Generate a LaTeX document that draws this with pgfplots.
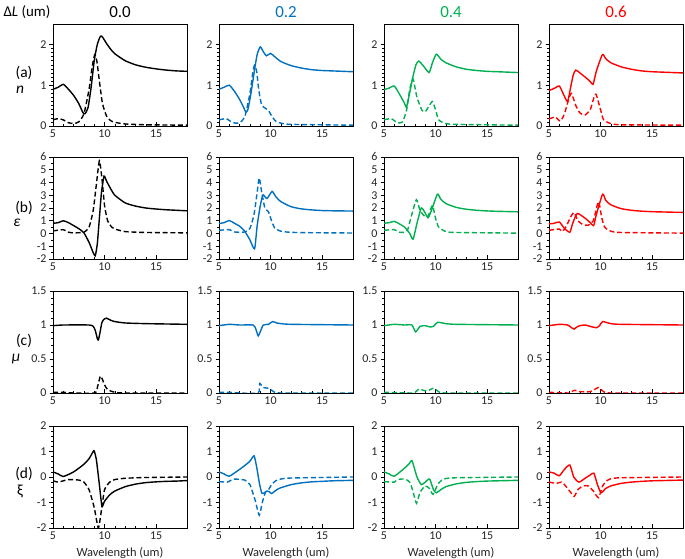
\documentclass[border=0pt]{standalone}
\usepackage{pgfplots}
\pgfplotsset{compat=1.18}
\usepackage{fontspec}
\setmainfont{Carlito}
\definecolor{cblk}{RGB}{0,0,0}
\definecolor{cblu}{RGB}{0,112,192}
\definecolor{cgrn}{RGB}{0,176,80}
\definecolor{cred}{RGB}{255,0,0}
\pgfplotsset{
  panel/.style={scale only axis, width=134bp, height=102bp, anchor=south west,
    xmin=5, xmax=18, xtick={5,10,15}, minor x tick num=4,
    xtick align=inside, ytick align=outside, xtick pos=bottom, ytick pos=left,
    major tick length=3.5bp, minor tick length=2bp,
    tick label style={font=\fontsize{12}{12}\selectfont, text=black!85},
    /pgf/number format/assume math mode=true,
    axis line style={black, line width=0.6bp},
    every tick/.style={black, line width=0.5bp},
    xticklabel style={yshift=-0.5bp},
    yticklabel style={xshift=0.5bp},
    clip=true},
  rowa/.style={panel, ymin=0, ymax=2.5, ytick={0,1,2}, minor y tick num=9},
  rowb/.style={panel, ymin=-2, ymax=6, ytick={-2,-1,0,1,2,3,4,5,6}, minor y tick num=1},
  rowc/.style={panel, ymin=0, ymax=1.5, ytick={0,0.5,1,1.5}, minor y tick num=4},
  rowd/.style={panel, ymin=-2, ymax=2, ytick={-2,-1,0,1,2}, minor y tick num=4},
  sol/.style={line width=1.4bp, smooth, tension=0.35, no markers},
  das/.style={line width=1.4bp, smooth, tension=0.35, no markers, dash pattern=on 5bp off 2.8bp},
}
\begin{document}
\begin{tikzpicture}
\useasboundingbox (0bp,0bp) rectangle (685bp,559bp);
% ---------- titles ----------
\node[anchor=west, font=\fontsize{15}{15}\selectfont] at (0bp,547bp) {Δ\textit{L} (um)};
\node[font=\fontsize{17}{17}\selectfont, text=cblk] at (120bp,547bp) {0.0};
\node[font=\fontsize{17}{17}\selectfont, text=cblu] at (286bp,547bp) {0.2};
\node[font=\fontsize{17}{17}\selectfont, text=cgrn] at (451bp,547bp) {0.4};
\node[font=\fontsize{17}{17}\selectfont, text=cred] at (616bp,547bp) {0.6};
\node[font=\fontsize{15.5}{15.5}\selectfont] at (24bp,486bp) {(a)};
\node[font=\fontsize{15.5}{15.5}\selectfont] at (20bp,469bp) {\textit{n}};
\node[font=\fontsize{15.5}{15.5}\selectfont] at (24bp,351bp) {(b)};
\node[font=\fontsize{15.5}{15.5}\selectfont] at (17bp,336bp) {\textit{ε}};
\node[font=\fontsize{15.5}{15.5}\selectfont] at (24bp,218bp) {(c)};
\node[font=\fontsize{15.5}{15.5}\selectfont] at (16bp,200bp) {\textit{μ}};
\node[font=\fontsize{15.5}{15.5}\selectfont] at (24bp,85bp) {(d)};
\node[font=\fontsize{15.5}{15.5}\selectfont] at (20bp,68bp) {ξ};
\foreach \cx in {120,286,451,616}{\node[font=\fontsize{12.5}{12.5}\selectfont, text=black!85] at (\cx bp,6bp) {Wavelength (um)};}
% ================= column 0.0 =================
\begin{axis}[rowa, at={(53bp,433bp)}]
\addplot[sol,cblk] coordinates {(5,0.9)(5.5,0.95)(6,1.02)(6.5,0.9)(7,0.75)(7.5,0.55)(7.9,0.33)(8.1,0.3)(8.4,0.45)(8.7,0.95)(9,1.6)(9.3,2.0)(9.6,2.2)(9.8,2.18)(10.2,2.02)(10.6,1.88)(11,1.77)(12,1.6)(13,1.5)(14,1.44)(15,1.4)(16,1.37)(17,1.35)(18,1.34)};
\addplot[das,cblk] coordinates {(5,0.15)(5.5,0.18)(6,0.15)(6.5,0.08)(7,0.06)(7.5,0.1)(8,0.3)(8.5,0.9)(8.8,1.45)(9.05,1.75)(9.25,1.6)(9.5,1.1)(9.8,0.55)(10.2,0.24)(10.6,0.13)(11,0.09)(12,0.05)(14,0.03)(18,0.02)};
\end{axis}
\begin{axis}[rowb, at={(53bp,300bp)}]
\addplot[sol,cblk] coordinates {(5,0.8)(5.5,0.85)(6,1.0)(6.5,0.85)(7,0.62)(7.5,0.38)(8,0.05)(8.5,-0.7)(8.9,-1.5)(9.1,-1.75)(9.3,-0.8)(9.5,1.2)(9.7,3.2)(9.95,4.5)(10.2,4.1)(10.6,3.5)(11,3.0)(12,2.4)(13,2.15)(14,2.0)(15,1.92)(16,1.86)(17,1.82)(18,1.78)};
\addplot[das,cblk] coordinates {(5,0.2)(6,0.3)(6.5,0.1)(7,0.05)(8,0.1)(8.5,0.5)(8.9,1.8)(9.2,3.8)(9.5,5.7)(9.75,4.3)(10,2.2)(10.3,1.0)(10.7,0.5)(11,0.35)(12,0.15)(14,0.08)(18,0.05)};
\end{axis}
\begin{axis}[rowc, at={(53bp,166bp)}]
\addplot[sol,cblk] coordinates {(5,0.99)(6,1.0)(8.5,1.0)(8.9,0.98)(9.1,0.92)(9.3,0.8)(9.4,0.78)(9.55,0.88)(9.75,1.04)(10.0,1.09)(10.2,1.1)(10.6,1.07)(11,1.05)(12,1.03)(14,1.02)(18,1.01)};
\addplot[das,cblk] coordinates {(5,0.01)(6,0.01)(7,0)(9.1,0)(9.3,0.08)(9.5,0.2)(9.6,0.25)(9.8,0.2)(10.0,0.12)(10.3,0.05)(11,0.01)(12,0)(18,0)};
\end{axis}
\begin{axis}[rowd, at={(53bp,31bp)}]
\addplot[sol,cblk] coordinates {(5,0.2)(5.5,0.12)(6,0.02)(7,0.2)(8,0.5)(8.5,0.72)(8.9,1.0)(9.0,1.02)(9.2,0.7)(9.5,-0.3)(9.75,-1.15)(10.0,-0.95)(10.5,-0.7)(11,-0.55)(12,-0.38)(13,-0.28)(14,-0.22)(15,-0.19)(16,-0.17)(17,-0.16)(18,-0.14)};
\addplot[das,cblk] coordinates {(5,-0.15)(5.5,-0.2)(6,-0.15)(6.5,-0.1)(7.5,-0.12)(8,-0.2)(8.5,-0.5)(9,-1.2)(9.4,-2.0)(9.7,-1.3)(10,-0.5)(10.5,-0.2)(11,-0.1)(12,-0.05)(14,-0.02)(18,0.0)};
\end{axis}
% ================= column 0.2 =================
\begin{axis}[rowa, at={(219bp,433bp)}]
\addplot[sol,cblu] coordinates {(5,0.9)(5.5,0.95)(6,1.0)(6.5,0.85)(7,0.65)(7.4,0.45)(7.6,0.34)(7.8,0.4)(8.1,0.8)(8.4,1.3)(8.7,1.75)(9.0,1.94)(9.3,1.82)(9.6,1.72)(10.0,1.78)(10.4,1.7)(11,1.58)(12,1.48)(13,1.42)(14,1.38)(15,1.36)(16,1.35)(17,1.34)(18,1.33)};
\addplot[das,cblu] coordinates {(5,0.15)(5.7,0.18)(6.2,0.1)(6.6,0.07)(7,0.08)(7.5,0.22)(8,0.8)(8.3,1.35)(8.45,1.49)(8.65,1.35)(8.85,0.9)(9.1,0.55)(9.4,0.45)(9.8,0.38)(10.1,0.25)(10.5,0.12)(11,0.07)(12,0.04)(18,0.02)};
\end{axis}
\begin{axis}[rowb, at={(219bp,300bp)}]
\addplot[sol,cblu] coordinates {(5,0.78)(5.5,0.85)(6,1.02)(6.5,0.8)(7,0.57)(7.5,0.17)(8,-0.5)(8.45,-1.2)(8.7,0.6)(9.0,2.16)(9.27,3.03)(9.65,2.74)(10.15,3.3)(10.5,2.9)(11,2.5)(12,2.1)(13,1.93)(14,1.85)(15,1.8)(16,1.78)(17,1.77)(18,1.76)};
\addplot[das,cblu] coordinates {(5,0.25)(6,0.3)(6.5,0.12)(7,0.1)(7.5,0.12)(8,0.4)(8.4,1.5)(8.7,3.2)(8.9,4.36)(9.15,3.2)(9.45,2.0)(9.8,1.7)(10.1,1.0)(10.4,0.44)(11,0.18)(12,0.09)(14,0.06)(18,0.04)};
\end{axis}
\begin{axis}[rowc, at={(219bp,166bp)}]
\addplot[sol,cblu] coordinates {(5,0.99)(6,1.01)(7,1.0)(8.3,1.0)(8.55,0.95)(8.8,0.84)(9.0,0.9)(9.3,1.0)(9.8,1.01)(10.2,1.05)(10.6,1.03)(11,1.02)(12,1.01)(18,1.0)};
\addplot[das,cblu] coordinates {(5,0.01)(6,0.01)(7,0.0)(8.8,0.0)(8.95,0.14)(9.3,0.08)(9.8,0.07)(10.3,0.02)(11,0.0)(18,0.0)};
\end{axis}
\begin{axis}[rowd, at={(219bp,31bp)}]
\addplot[sol,cblu] coordinates {(5,0.2)(5.5,0.12)(6,0.03)(7,0.3)(7.5,0.45)(8.0,0.62)(8.4,0.83)(8.65,0.4)(8.9,-0.2)(9.15,-0.63)(9.4,-0.62)(9.65,-0.55)(9.9,-0.58)(10.1,-0.65)(10.6,-0.5)(11,-0.42)(12,-0.3)(13,-0.23)(14,-0.19)(15,-0.17)(16,-0.15)(17,-0.14)(18,-0.13)};
\addplot[das,cblu] coordinates {(5,-0.18)(5.8,-0.2)(6.2,-0.12)(6.5,-0.08)(7.5,-0.12)(8.0,-0.3)(8.5,-0.9)(8.9,-1.5)(9.2,-1.0)(9.5,-0.6)(9.8,-0.5)(10.1,-0.3)(10.5,-0.15)(11,-0.08)(12,-0.04)(18,0.0)};
\end{axis}
% ================= column 0.4 =================
\begin{axis}[rowa, at={(384bp,433bp)}]
\addplot[sol,cgrn] coordinates {(5,0.89)(5.5,0.93)(6,0.98)(6.5,0.78)(7.0,0.55)(7.17,0.46)(7.4,0.7)(7.8,1.2)(8.1,1.5)(8.37,1.59)(8.8,1.48)(9.37,1.31)(9.7,1.55)(10.08,1.76)(10.5,1.64)(11,1.55)(12,1.45)(13,1.39)(14,1.36)(15,1.34)(16,1.33)(17,1.32)(18,1.31)};
\addplot[das,cgrn] coordinates {(5,0.15)(5.7,0.18)(6.3,0.08)(6.8,0.1)(7.2,0.4)(7.5,0.9)(7.82,1.15)(8.2,0.7)(8.7,0.38)(9.0,0.35)(9.4,0.5)(9.7,0.6)(10.0,0.4)(10.3,0.15)(11,0.06)(12,0.04)(18,0.02)};
\end{axis}
\begin{axis}[rowb, at={(384bp,300bp)}]
\addplot[sol,cgrn] coordinates {(5,0.8)(5.5,0.85)(6,0.95)(6.5,0.75)(7,0.5)(7.5,0.0)(7.82,-0.45)(8.2,0.8)(8.62,2.0)(9.0,1.6)(9.27,1.23)(9.6,1.8)(10.18,3.08)(10.5,2.7)(11,2.35)(12,2.05)(13,1.9)(14,1.82)(15,1.77)(16,1.74)(17,1.72)(18,1.7)};
\addplot[das,cgrn] coordinates {(5,0.25)(6,0.3)(6.5,0.1)(7,0.1)(7.3,0.3)(7.6,1.2)(8.14,2.65)(8.5,1.8)(9.0,1.3)(9.3,1.4)(9.7,2.2)(10.0,1.2)(10.3,0.5)(11,0.15)(12,0.08)(18,0.03)};
\end{axis}
\begin{axis}[rowc, at={(384bp,166bp)}]
\addplot[sol,cgrn] coordinates {(5,0.99)(6,1.01)(7,1.0)(7.7,1.0)(8.07,0.9)(8.5,0.98)(9.0,0.99)(9.5,0.97)(9.8,0.98)(10.2,1.04)(11,1.02)(12,1.01)(18,1.0)};
\addplot[das,cgrn] coordinates {(5,0.01)(7.8,0.0)(8.1,0.02)(8.4,0.06)(8.8,0.04)(9.2,0.03)(9.8,0.07)(10.3,0.02)(11,0.0)(18,0.0)};
\end{axis}
\begin{axis}[rowd, at={(384bp,31bp)}]
\addplot[sol,cgrn] coordinates {(5,0.2)(5.5,0.12)(6,0.03)(7,0.35)(7.5,0.55)(7.72,0.64)(8.2,0.0)(8.62,-0.3)(9.0,-0.2)(9.43,-0.08)(9.8,-0.5)(10.08,-0.62)(10.5,-0.5)(11,-0.38)(12,-0.27)(13,-0.21)(14,-0.18)(15,-0.16)(16,-0.15)(17,-0.14)(18,-0.13)};
\addplot[das,cgrn] coordinates {(5,-0.18)(6,-0.2)(6.3,-0.1)(7.0,-0.08)(7.5,-0.2)(7.8,-0.55)(8.15,-1.03)(8.5,-0.6)(9.0,-0.35)(9.4,-0.45)(9.76,-0.68)(10.2,-0.3)(10.6,-0.12)(11,-0.06)(12,-0.03)(18,0.0)};
\end{axis}
% ================= column 0.6 =================
\begin{axis}[rowa, at={(549bp,433bp)}]
\addplot[sol,cred] coordinates {(5,0.87)(5.5,0.92)(6,0.98)(6.4,0.78)(6.8,0.6)(7.1,0.95)(7.35,1.25)(7.6,1.37)(8.0,1.3)(8.5,1.2)(9.0,1.09)(9.27,1.02)(9.6,1.35)(10.18,1.75)(10.5,1.65)(11,1.55)(12,1.45)(13,1.39)(14,1.35)(15,1.33)(16,1.32)(17,1.31)(18,1.3)};
\addplot[das,cred] coordinates {(5,0.17)(5.6,0.22)(6.1,0.12)(6.5,0.3)(6.9,0.65)(7.18,0.8)(7.6,0.5)(8.0,0.32)(8.5,0.27)(9.0,0.4)(9.3,0.65)(9.56,0.78)(10.0,0.4)(10.3,0.15)(11,0.06)(12,0.03)(18,0.02)};
\end{axis}
\begin{axis}[rowb, at={(549bp,300bp)}]
\addplot[sol,cred] coordinates {(5,0.75)(5.5,0.8)(6,0.9)(6.5,0.4)(7.02,0.1)(7.3,0.8)(7.74,1.57)(8.5,1.2)(9.0,0.85)(9.33,0.62)(9.6,1.5)(10.2,3.08)(10.5,2.6)(11,2.25)(12,1.95)(13,1.82)(14,1.75)(15,1.71)(16,1.69)(17,1.67)(18,1.66)};
\addplot[das,cred] coordinates {(5,0.25)(6,0.35)(6.3,0.15)(6.7,0.6)(7.1,1.3)(7.44,1.65)(7.8,1.0)(8.3,0.7)(8.8,0.65)(9.3,1.0)(9.8,2.5)(10.1,1.3)(10.4,0.5)(11,0.18)(12,0.08)(18,0.03)};
\end{axis}
\begin{axis}[rowc, at={(549bp,166bp)}]
\addplot[sol,cred] coordinates {(5,0.99)(6,1.01)(6.8,1.0)(7.2,0.96)(7.44,0.94)(7.7,0.97)(8,0.99)(8.5,1.0)(9.0,0.98)(9.6,0.96)(9.9,0.99)(10.2,1.05)(11,1.02)(12,1.01)(18,1.0)};
\addplot[das,cred] coordinates {(5,0.01)(7.0,0.0)(7.2,0.02)(7.5,0.04)(8,0.02)(9.0,0.02)(9.8,0.08)(10.3,0.02)(11,0.0)(18,0.0)};
\end{axis}
\begin{axis}[rowd, at={(549bp,31bp)}]
\addplot[sol,cred] coordinates {(5,0.2)(5.5,0.15)(6,0.05)(6.5,0.3)(7.02,0.47)(7.4,0.0)(7.9,-0.2)(8.5,-0.05)(9.0,0.08)(9.35,0.15)(9.7,-0.3)(10.05,-0.62)(10.5,-0.45)(11,-0.35)(12,-0.25)(13,-0.2)(14,-0.17)(15,-0.15)(16,-0.14)(17,-0.13)(18,-0.12)};
\addplot[das,cred] coordinates {(5,-0.2)(5.7,-0.25)(6.2,-0.2)(6.5,-0.3)(7.0,-0.55)(7.44,-0.76)(7.8,-0.5)(8.3,-0.35)(8.8,-0.35)(9.3,-0.55)(9.8,-0.81)(10.2,-0.35)(10.6,-0.15)(11,-0.07)(12,-0.03)(18,0.0)};
\end{axis}
\end{tikzpicture}
\end{document}
